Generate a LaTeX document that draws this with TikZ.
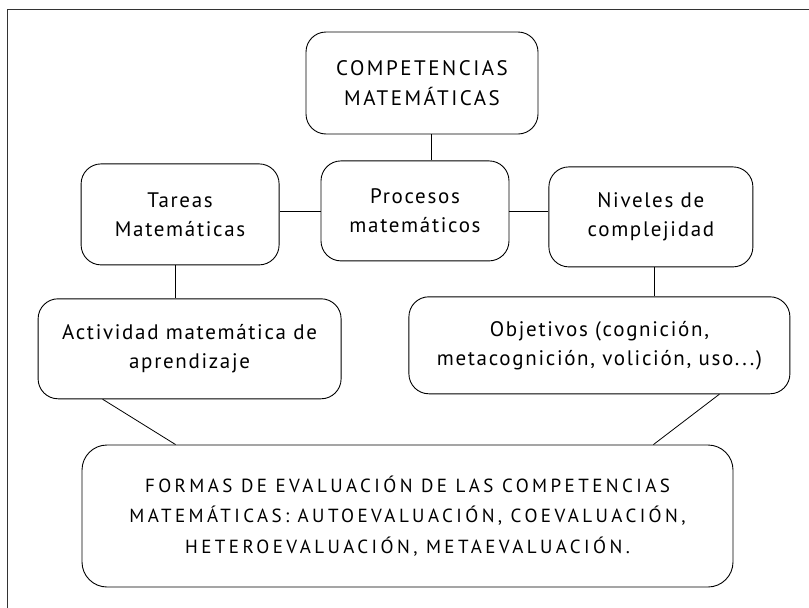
\documentclass[tikz,border=0pt]{standalone}
\usepackage{fontspec}
\setmainfont{PT Sans}[LetterSpace=8]
\newfontfamily\mayus{PT Sans}[LetterSpace=12]
\newfontfamily\mayusgr{PT Sans}[LetterSpace=18]
\usetikzlibrary{positioning}

\begin{document}
\begin{tikzpicture}[font=\fontsize{21}{29}\selectfont]
\tikzstyle{caja} = [rectangle, draw, line width=0.9pt, rounded corners=20pt, align=center, inner sep=0pt]
\tikzstyle{enlace} = [line width=0.8pt]

\useasboundingbox (0,0) rectangle (809pt,-608pt);
\clip (0,0) rectangle (809pt,-608pt);
\draw [line width=1pt, black!80] (7pt,-9pt) rectangle (840pt,-640pt);

\node (comp) [caja, minimum width=232pt, minimum height=102pt, font=\mayus\fontsize{21}{30}\selectfont] at (422pt,-83pt) {COMPETENCIAS\\MATEMÁTICAS};
\node (proc) [caja, minimum width=188pt, minimum height=100pt, below=26pt of comp, xshift=-7pt] {Procesos\\matemáticos};
\node (tareas) [caja, minimum width=198pt, minimum height=101pt, left=41pt of proc, yshift=-3.5pt] {Tareas\\Matemáticas};
\node (niveles) [caja, minimum width=204pt, minimum height=100pt, right=39pt of proc, yshift=-6pt] {Niveles de\\complejidad};
\node (activ) [caja, minimum width=303pt, minimum height=100pt, below=33pt of tareas, xshift=9.5pt] {Actividad matemática de\\aprendizaje};
\node (obj) [caja, minimum width=381pt, minimum height=97pt, below=29pt of niveles, xshift=-51.5pt] {Objetivos (cognición,\\metacognición, volición, uso...)};
\node (formas) [caja, rounded corners=25pt, minimum width=651pt, minimum height=142pt, font=\mayusgr\fontsize{19}{30.5}\selectfont] at (407.5pt,-516pt) {FORMAS DE EVALUACIÓN DE LAS COMPETENCIAS\\MATEMÁTICAS: AUTOEVALUACIÓN, COEVALUACIÓN,\\HETEROEVALUACIÓN, METAEVALUACIÓN.};

\draw [enlace] ([xshift=9pt]comp.south) -- ([xshift=9pt]comp.south |- proc.north);
\draw [enlace] (proc.west) -- (proc.west -| tareas.east);
\draw [enlace] (proc.east) -- (proc.east -| niveles.west);
\draw [enlace] ([xshift=-5pt]tareas.south) -- ([xshift=-5pt]tareas.south |- activ.north);
\draw [enlace] ([xshift=3pt]niveles.south) -- ([xshift=3pt]niveles.south |- obj.north);
\draw [enlace] ([xshift=65pt]activ.south west) -- ([xshift=94pt]formas.north west);
\draw [enlace] ([xshift=-71pt]obj.south east) -- ([xshift=-80pt]formas.north east);

\end{tikzpicture}
\end{document}
